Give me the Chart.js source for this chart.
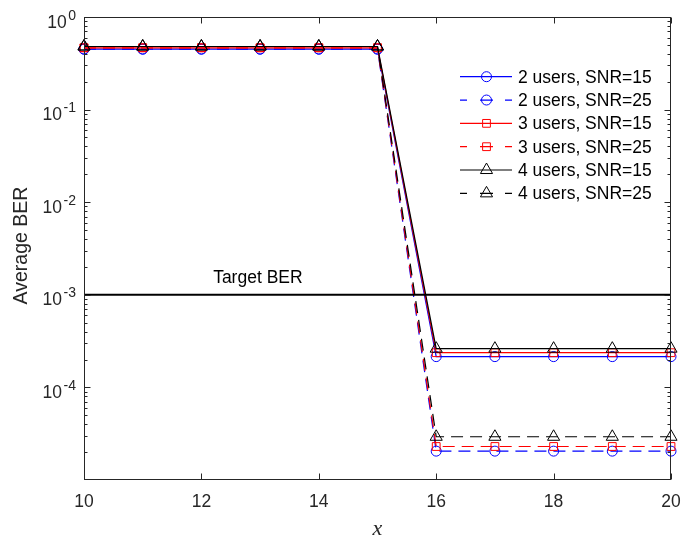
<!DOCTYPE html>
<html><head><meta charset="utf-8">
<script src="https://cdn.jsdelivr.net/npm/chart.js@4/dist/chart.umd.min.js"></script>
<style>html,body{margin:0;padding:0;background:#fff}#wrap{width:683px;height:541px}</style>
</head><body><div id="wrap"><canvas id="c" width="683" height="541"></canvas></div>
<script>
// ---- data ----
const xValues = [10, 11, 12, 13, 14, 15, 16, 17, 18, 19, 20];
const ber2u15 = [0.45, 0.45, 0.45, 0.45, 0.45, 0.45, 2.15e-4, 2.15e-4, 2.15e-4, 2.15e-4, 2.15e-4];
const ber2u25 = [0.45, 0.45, 0.45, 0.45, 0.45, 0.45, 2.05e-5, 2.05e-5, 2.05e-5, 2.05e-5, 2.05e-5];
const ber3u15 = [0.465, 0.465, 0.465, 0.465, 0.465, 0.465, 2.37e-4, 2.37e-4, 2.37e-4, 2.37e-4, 2.37e-4];
const ber3u25 = [0.465, 0.465, 0.465, 0.465, 0.465, 0.465, 2.3e-5, 2.3e-5, 2.3e-5, 2.3e-5, 2.3e-5];
const ber4u15 = [0.48, 0.48, 0.48, 0.48, 0.48, 0.48, 2.62e-4, 2.62e-4, 2.62e-4, 2.62e-4, 2.62e-4];
const ber4u25 = [0.48, 0.48, 0.48, 0.48, 0.48, 0.48, 2.93e-5, 2.93e-5, 2.93e-5, 2.93e-5, 2.93e-5];
const seriesLabels = ['2 users, SNR=15', '2 users, SNR=25', '3 users, SNR=15', '3 users, SNR=25', '4 users, SNR=15', '4 users, SNR=25'];
const targetBER = 1e-3;
const targetLabel = 'Target BER';
const xTicks = [10, 12, 14, 16, 18, 20];
const yTickExps = [0, -1, -2, -3, -4];
const xTitle = 'x';
const yTitle = 'Average BER';

// ---- styles ----
const FONT = '"Liberation Sans", Arial, sans-serif';
const AX = '#262626';
const styles = [
  {c: '#0000ff', dash: [], ps: 'circle', r: 5},
  {c: '#0000ff', dash: [12, 7], ps: 'circle', r: 5},
  {c: '#ff0000', dash: [], ps: 'rect', r: 5.5},
  {c: '#ff0000', dash: [12, 7], ps: 'rect', r: 5.5},
  {c: '#000000', dash: [], ps: 'triangle', r: 7},
  {c: '#000000', dash: [12, 7], ps: 'triangle', r: 7}
];
const seriesData = [ber2u15, ber2u25, ber3u15, ber3u25, ber4u15, ber4u25];

const datasets = seriesData.map((arr, i) => ({
  label: seriesLabels[i],
  data: xValues.map((x, j) => ({x: x, y: arr[j]})),
  borderColor: styles[i].c,
  borderWidth: 1.2,
  borderDash: styles[i].dash,
  pointStyle: styles[i].ps,
  pointRadius: styles[i].r,
  pointBorderColor: styles[i].c,
  pointBackgroundColor: 'rgba(0,0,0,0)',
  pointBorderWidth: 1,
  fill: false,
  tension: 0,
  clip: false,
  order: 20 - i
}));
datasets.push({
  label: targetLabel,
  data: [{x: xValues[0], y: targetBER}, {x: xValues[xValues.length - 1], y: targetBER}],
  borderColor: '#000',
  borderWidth: 2,
  pointRadius: 0,
  fill: false,
  clip: false,
  order: 0
});

const decor = {
  id: 'decor',
  afterDraw(chart) {
    const ctx = chart.ctx, a = chart.chartArea;
    const xs = chart.scales.x, ys = chart.scales.y;
    ctx.save();
    // box
    ctx.strokeStyle = AX; ctx.lineWidth = 1;
    const L = Math.round(a.left) + 0.5, R = Math.round(a.right) - 0.5, T = Math.round(a.top) + 0.5, B = Math.round(a.bottom) - 0.5;
    ctx.strokeRect(L, T, R - L, B - T);
    // x ticks
    ctx.beginPath();
    xTicks.forEach(v => {
      const px = Math.round(xs.getPixelForValue(v)) + 0.5;
      ctx.moveTo(px, B); ctx.lineTo(px, B - 6);
      ctx.moveTo(px, T); ctx.lineTo(px, T + 6);
    });
    // y ticks major + minor
    for (let e = -5; e <= 0; e++) {
      if (e > -5 && e < 0) {
        const py = Math.round(ys.getPixelForValue(Math.pow(10, e))) + 0.5;
        ctx.moveTo(L, py); ctx.lineTo(L + 6, py);
        ctx.moveTo(R, py); ctx.lineTo(R - 6, py);
      }
      if (e < 0) {
        for (let k = 2; k <= 9; k++) {
          const my = Math.round(ys.getPixelForValue(k * Math.pow(10, e))) + 0.5;
          ctx.moveTo(L, my); ctx.lineTo(L + 3, my);
          ctx.moveTo(R, my); ctx.lineTo(R - 3, my);
        }
      }
    }
    ctx.stroke();
    // x tick labels
    ctx.fillStyle = AX;
    ctx.font = '17.5px ' + FONT;
    ctx.textAlign = 'center'; ctx.textBaseline = 'alphabetic';
    xTicks.forEach(v => ctx.fillText(String(v), xs.getPixelForValue(v), a.bottom + 27));
    // y tick labels 10^e
    yTickExps.forEach(e => {
      const py = ys.getPixelForValue(Math.pow(10, e));
      ctx.font = '14px ' + FONT;
      ctx.textAlign = 'right';
      const sup = String(e);
      ctx.fillText(sup, 76, py + 2.5);
      const sw = ctx.measureText(sup).width;
      ctx.font = '17.5px ' + FONT;
      ctx.fillText('10', 76 - sw - 1.5, py + 10.5);
    });
    // axis titles
    ctx.font = 'italic 22px "Liberation Serif", "Times New Roman", serif';
    ctx.textAlign = 'center';
    ctx.fillText(xTitle, (a.left + a.right) / 2, 535);
    ctx.save();
    ctx.translate(27, (a.top + a.bottom) / 2 - 3);
    ctx.rotate(-Math.PI / 2);
    ctx.font = '19.5px ' + FONT;
    ctx.fillText(yTitle, 0, 0);
    ctx.restore();
    // target label
    ctx.fillStyle = '#000';
    ctx.font = '17.5px ' + FONT;
    ctx.textAlign = 'left';
    ctx.fillText(targetLabel, xs.getPixelForValue(12.2), ys.getPixelForValue(targetBER) - 12);
    // legend
    const lx0 = 460, lx1 = 512, mx = 486.5, tx = 518;
    chart.data.datasets.slice(0, 6).forEach((ds, i) => {
      const y = 76.7 + i * 23.33;
      ctx.strokeStyle = ds.borderColor;
      ctx.lineWidth = 1.2;
      ctx.beginPath();
      if (ds.borderDash.length) {
        ctx.moveTo(lx0, y); ctx.lineTo(lx0 + 7, y);
        ctx.moveTo(mx - 6.5, y); ctx.lineTo(mx + 6.5, y);
        ctx.moveTo(lx1 - 7, y); ctx.lineTo(lx1, y);
      } else {
        ctx.moveTo(lx0, y); ctx.lineTo(lx1, y);
      }
      ctx.stroke();
      ctx.fillStyle = 'rgba(0,0,0,0)';
      ctx.lineWidth = 1;
      Chart.helpers.drawPoint(ctx, {pointStyle: ds.pointStyle, radius: ds.pointRadius, borderWidth: 1, rotation: 0}, mx, y);
      ctx.fillStyle = '#000';
      ctx.font = '17.5px ' + FONT;
      ctx.textAlign = 'left'; ctx.textBaseline = 'middle';
      ctx.fillText(ds.label, tx, y + 1);
      ctx.textBaseline = 'alphabetic';
    });
    ctx.restore();
  }
};

new Chart(document.getElementById('c'), {
  type: 'line',
  data: {datasets: datasets},
  options: {
    responsive: false,
    animation: false,
    devicePixelRatio: 1,
    layout: {padding: {left: 84, right: 12, top: 17, bottom: 61}},
    scales: {
      x: {type: 'linear', min: 10, max: 20, display: false},
      y: {type: 'logarithmic', min: 1e-5, max: 1, display: false}
    },
    plugins: {legend: {display: false}, tooltip: {enabled: false}}
  },
  plugins: [decor]
});
</script></body></html>
